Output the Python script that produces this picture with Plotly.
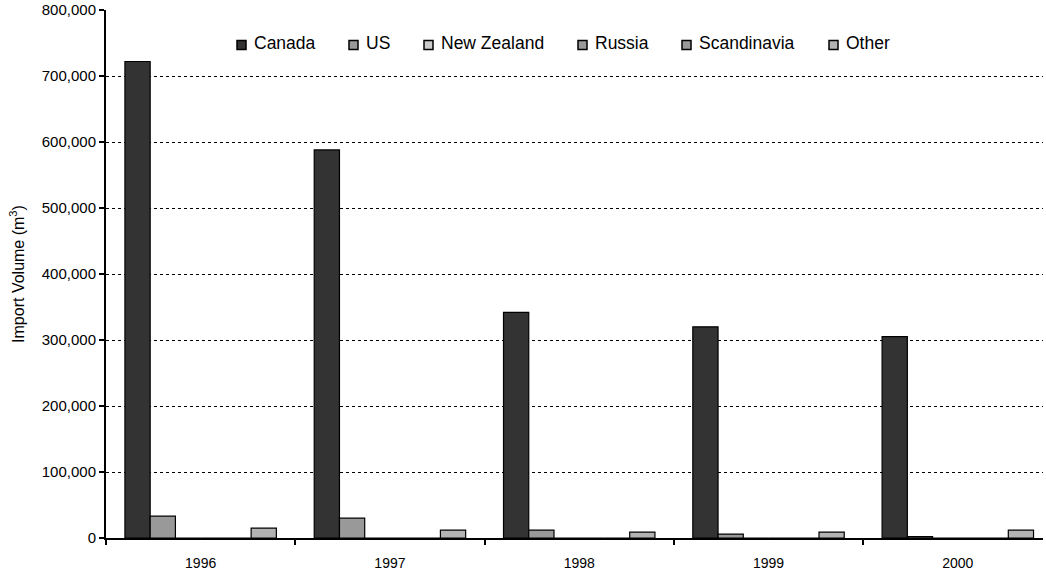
import plotly.graph_objects as go

years = ["1996", "1997", "1998", "1999", "2000"]
canada = [722000, 588000, 342000, 320000, 305000]
us = [33000, 30000, 12000, 6000, 2000]
new_zealand = [0, 0, 0, 0, 0]
russia = [0, 0, 0, 0, 0]
scandinavia = [0, 0, 0, 0, 0]
other = [15000, 12000, 9000, 9000, 12000]

names = ["Canada", "US", "New Zealand", "Russia", "Scandinavia", "Other"]
values = [canada, us, new_zealand, russia, scandinavia, other]
colors = ["#333333", "#999999", "#cccccc", "#999999", "#999999", "#b3b3b3"]

W, H = 1046, 573
L, R, T, B = 106, 3, 10, 35
PW, PH = W - L - R, H - T - B

fig = go.Figure()
for name, vals, col in zip(names, values, colors):
    fig.add_trace(go.Bar(
        name=name, x=years, y=vals,
        marker=dict(color=col, line=dict(color="black", width=1.2)),
        showlegend=False,
    ))

# custom legend (small square swatches placed like the original)
legend_px = [237, 349, 424, 578, 682, 829]
leg_y_px = 43
shapes, annotations = [], []
for name, col, px in zip(names, colors, legend_px):
    x0 = (px - L) / PW
    x1 = (px + 9 - L) / PW
    yc = 1 - (leg_y_px - T) / PH
    h = 4.5 / PH
    shapes.append(dict(type="rect", xref="paper", yref="paper",
                       x0=x0, x1=x1, y0=yc - h - 0.004, y1=yc + h - 0.004,
                       fillcolor=col, line=dict(color="black", width=1.5)))
    annotations.append(dict(xref="paper", yref="paper", x=(px + 15 - L) / PW, y=yc,
                            text=name, showarrow=False, xanchor="left", yanchor="middle",
                            font=dict(size=17.5, color="black")))

fig.update_layout(
    width=W, height=H,
    margin=dict(l=L, r=R, t=T, b=B),
    plot_bgcolor="white", paper_bgcolor="white",
    barmode="group", bargap=0.2, bargroupgap=0,
    font=dict(family="Liberation Sans, Arial, sans-serif", color="black", size=14),
    showlegend=False,
    shapes=shapes, annotations=annotations,
)
fig.update_xaxes(
    type="category", tickson="boundaries", ticks="outside", ticklen=5,
    tickcolor="black", tickwidth=2, showline=True, linecolor="black", linewidth=2,
    showgrid=False, tickfont=dict(size=14), range=[-0.5, 4.45],
    automargin=False, ticklabelstandoff=11,
)
fig.update_yaxes(
    range=[0, 800000], dtick=100000, tickformat=",", ticks="outside", ticklen=5,
    tickcolor="black", tickwidth=2, showline=True, linecolor="black", linewidth=2,
    showgrid=True, gridcolor="black", griddash="dot", gridwidth=1,
    zeroline=False, tickfont=dict(size=15), automargin=False,
    title=dict(text="Import Volume (m<sup>3</sup>)", font=dict(size=16), standoff=13),
)
fig.write_html("out.html", config={"displayModeBar": False},
               post_script="document.body.style.margin='0';document.body.style.overflow='hidden';")
